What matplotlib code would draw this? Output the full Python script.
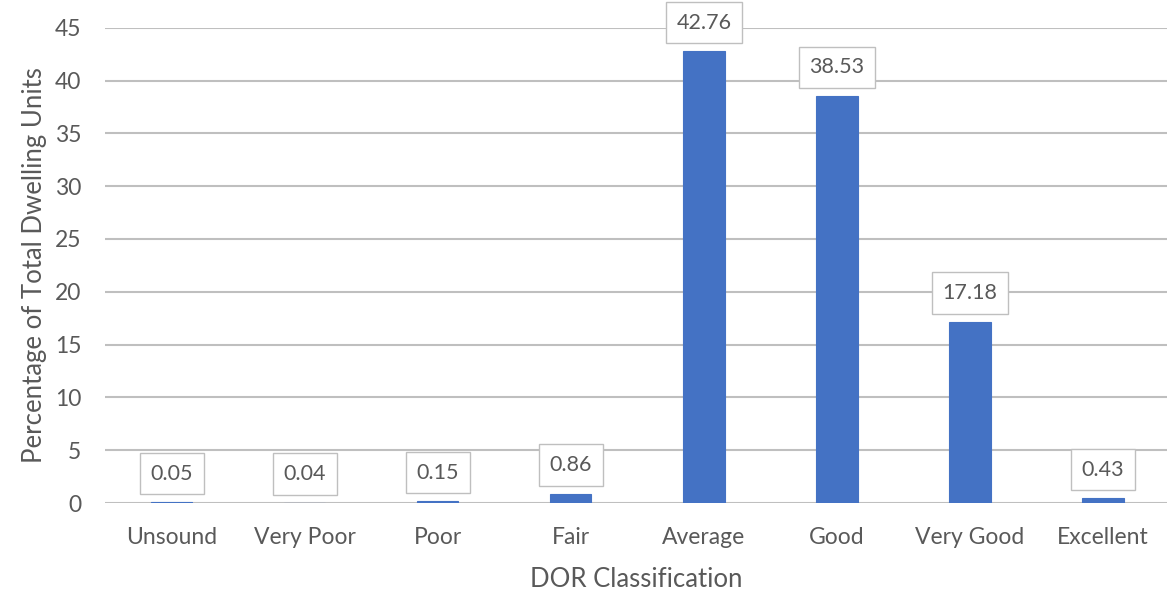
import matplotlib
matplotlib.use("Agg")
import matplotlib.pyplot as plt
import numpy as np

categories = ["Unsound", "Very Poor", "Poor", "Fair", "Average", "Good", "Very Good", "Excellent"]
values = [0.05, 0.04, 0.15, 0.86, 42.76, 38.53, 17.18, 0.43]
yticks = [0, 5, 10, 15, 20, 25, 30, 35, 40, 45]

plt.rcParams['font.family'] = ['Lato', 'DejaVu Sans']
text_color = '#595959'
grid_color = '#BFBFBF'
bar_color = '#4472C4'

fig = plt.figure(figsize=(11.67, 5.93), dpi=100)
ax = fig.add_axes([105 / 1167, (593 - 503) / 593, 1062 / 1167, (503 - 27.7) / 593])

x = np.arange(len(categories))
ax.bar(x, values, width=0.31, color=bar_color, edgecolor=bar_color, linewidth=0.8, zorder=3)

for xi, v in zip(x, values):
    ax.annotate(f"{v:.2f}", xy=(xi, v), xytext=(0, 13.5), textcoords='offset points',
                ha='center', va='bottom', fontsize=15.5, color=text_color, zorder=4,
                bbox=dict(boxstyle='square,pad=0.5', facecolor='white', edgecolor='#BFBFBF', linewidth=1.0))

ax.set_xlim(-0.5, 7.48)
ax.set_ylim(0, 45)
ax.set_yticks(yticks)
ax.set_xticks(x)
ax.set_xticklabels(categories)
ax.yaxis.grid(True, color=grid_color, linewidth=1.5, zorder=0)
ax.set_axisbelow(True)
for s in ax.spines.values():
    s.set_visible(False)
ax.tick_params(axis='both', length=0, labelsize=16.5, colors=text_color)
ax.tick_params(axis='x', pad=17)
ax.tick_params(axis='y', pad=17)

ax.set_xlabel("DOR Classification", fontsize=18.5, color=text_color, labelpad=14)
ax.set_ylabel("Percentage of Total Dwelling Units", fontsize=18.5, color=text_color, labelpad=6)

fig.savefig("out.png", dpi=100)
